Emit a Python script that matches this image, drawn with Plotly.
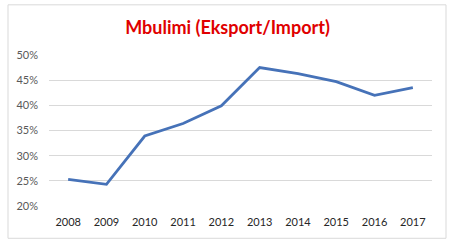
import plotly.graph_objects as go

years = ["2008", "2009", "2010", "2011", "2012", "2013", "2014", "2015", "2016", "2017"]
ratio = [0.253, 0.243, 0.339, 0.364, 0.399, 0.475, 0.463, 0.447, 0.420, 0.435]
title_text = "Mbulimi (Eksport/Import)"

fig = go.Figure()
fig.add_trace(go.Scatter(
    x=years, y=ratio, mode="lines",
    line=dict(color="#4672B8", width=2.75),
    hoverinfo="skip", showlegend=False,
))

L, R, T, B = 49, 28, 54.5, 42.5
W, H = 460, 249
pw, ph = W - L - R, H - T - B

def px(x):
    return (x - L) / pw

def py(y):
    return (H - B - y) / ph

fig.add_shape(type="rect", xref="paper", yref="paper",
              x0=px(8), x1=px(446), y0=py(239), y1=py(4),
              line=dict(color="#D9D9D9", width=1), fillcolor="rgba(0,0,0,0)", layer="below")

fig.update_layout(
    width=W, height=H,
    margin=dict(l=L, r=R, t=T, b=B),
    paper_bgcolor="white", plot_bgcolor="white",
    font=dict(family="Lato, Open Sans, sans-serif", size=11, color="#595959"),
    title=dict(text=f"<b>{title_text}</b>", x=px(227.5), xref="paper", xanchor="center",
               y=1 - 28 / H, yanchor="middle",
               font=dict(family="Lato, Open Sans, sans-serif", size=18, color="#E00000")),
    xaxis=dict(type="category", showgrid=False, zeroline=False, showline=False,
               ticks="", tickfont=dict(size=11, color="#262626"), ticklabelstandoff=8,
               range=[-0.5, 9.5]),
    yaxis=dict(range=[0.20, 0.50], dtick=0.05, tickformat=".0%", showgrid=True,
               gridcolor="#D9D9D9", gridwidth=1, zeroline=False, showline=False,
               ticks="", ticklabelstandoff=10, tickfont=dict(size=11, color="#595959")),
)

fig.write_html("out.html")
